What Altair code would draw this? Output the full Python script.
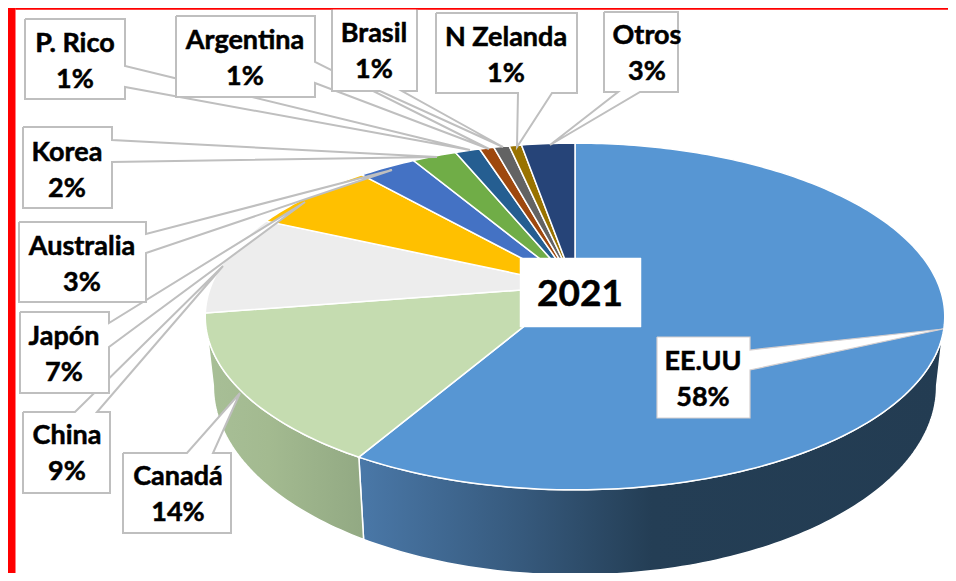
import math
import altair as alt
import pandas as pd

paises = ["EE.UU", "Canadá", "China", "Japón", "Australia", "Korea", "P. Rico", "Argentina", "Brasil", "N Zelanda", "Otros"]
etiquetas = ["58%", "14%", "9%", "7%", "3%", "2%", "1%", "1%", "1%", "1%", "3%"]
valores = [58.4, 14.1, 9.3, 6.67, 3.0, 2.3, 1.28, 0.75, 0.8, 0.64, 2.76]
colores = ["#5796d3", "#c5dcb0", "#ededed", "#ffc000", "#4472c4", "#70ad47", "#255e91", "#9e480e", "#636363", "#997300", "#264478"]
titulo = "2021"

W, H = 940, 565
# top face and base of the tilted disc (perspective parameters)
CX, K = 575, 0.1758
TOP = dict(cy=286, a=168, r=364)
BASE = dict(cy=353, a=183, r=356)

def rim(theta, f):
    t = math.radians(theta)
    X, Y = math.sin(t), -math.cos(t)
    d = 1 - K * Y
    return CX + f["r"] * X / d, f["cy"] + f["a"] * Y / d

def arc(a, b, f):
    n = max(2, int(abs(b - a)) + 1)
    return [rim(a + (b - a) * i / n, f) for i in range(n + 1)]

xs = alt.Scale(domain=[8, 8 + W], range=[0, W], nice=False, zero=False)
ys = alt.Scale(domain=[8, 8 + H], range=[0, H], nice=False, zero=False)

def poly(pts, fill, stroke, sw, clip=True):
    pts = list(pts) + [pts[0]]
    df = pd.DataFrame({"x": [p[0] for p in pts], "y": [p[1] for p in pts], "i": range(len(pts))})
    return alt.Chart(df).mark_line(fill=fill, stroke=stroke, strokeWidth=sw, strokeJoin="miter", clip=clip).encode(
        x=alt.X("x:Q", scale=xs, axis=None),
        y=alt.Y("y:Q", scale=ys, axis=None),
        order=alt.Order("i:Q"),
    )

total = sum(valores)
lim = [0]
for v in valores:
    lim.append(lim[-1] + v / total * 360)

def grad(stops, x1, x2):
    return alt.Gradient(gradient="linear", x1=x1, x2=x2, y1=0, y2=0,
                        stops=[alt.GradientStop(offset=o, color=c) for o, c in stops])

capas = []

# red frame
marco = pd.DataFrame({"x": [8, 15.5], "x2": [15.5, 948], "y": [8, 8], "y2": [8 + H, 9.5]})
capas.append(alt.Chart(marco).mark_rect(color="#ff0000").encode(
    x=alt.X("x:Q", scale=xs, axis=None), x2="x2:Q",
    y=alt.Y("y:Q", scale=ys, axis=None), y2="y2:Q"))

# sides
capas.append(poly(arc(100, lim[1], TOP) + arc(lim[1], 100, BASE),
                  grad([(0, "#4a78a8"), (0.28, "#36597c"), (0.5, "#243e55"), (1, "#233c52")], 0, 1), "#ffffff", 1.5))
capas.append(poly(arc(lim[1], 260, TOP) + arc(260, lim[1], BASE),
                  grad([(0, "#92a983"), (0.6, "#a3ba90"), (1, "#a8bf97")], 1, 0), "#ffffff", 1.5))

# top face
for i, c in enumerate(colores):
    capas.append(poly([(CX, TOP["cy"])] + arc(lim[i], lim[i + 1], TOP), c, "#ffffff", 1.5))

# callouts: box corners with the pointer drawn into the outline
GR = "#bfbfbf"
llamadas = [
    [(123, 453), (187, 453), (240, 393), (213, 453), (231, 453), (231, 533), (123, 533)],
    [(23, 412), (75, 412), (223, 266), (97, 412), (110, 412), (110, 493), (23, 493)],
    [(20, 312), (109, 312), (109, 323), (305, 202), (109, 347), (109, 393), (20, 393)],
    [(19, 222), (146, 222), (146, 234), (392, 170), (146, 253), (146, 302), (19, 302)],
    [(23, 127), (112, 127), (112, 140), (437, 157), (112, 162), (112, 208), (23, 208)],
    [(25, 19), (125, 19), (125, 66), (470, 150), (125, 87), (125, 99), (25, 99)],
    [(176, 16), (315, 16), (315, 62), (489, 149), (315, 83), (315, 97), (176, 97)],
    [(332, 6), (417, 6), (417, 91), (402, 91), (503, 147), (380, 91), (332, 91)],
    [(436, 13), (577, 13), (577, 93), (552, 93), (517, 147), (518, 93), (436, 93)],
    [(604, 12), (678, 12), (678, 92), (640, 92), (550, 145), (618, 92), (604, 92)],
]
for p in llamadas:
    capas.append(poly(p, "#ffffff", GR, 2))
capas.append(poly([(657, 337), (750, 337), (750, 350), (943, 329), (750, 370), (750, 418), (657, 418)], "#ffffff", "#d5cfcf", 1.2))
capas.append(poly([(520, 258), (641, 258), (641, 327), (520, 327)], "#ffffff", "#ffffff", 0.5))
# red top band over the box tops that run under it
capas.append(alt.Chart(marco.iloc[[1]]).mark_rect(color="#ff0000").encode(
    x=alt.X("x:Q", scale=xs, axis=None), x2="x2:Q",
    y=alt.Y("y:Q", scale=ys, axis=None), y2="y2:Q"))

# text
tx = [703, 178, 67, 64, 82, 67, 75, 245, 374, 506, 647]
ty = [362, 477, 436, 337, 247, 153, 44, 41, 34, 38, 36]
GAP = 36
textos = pd.DataFrame({
    "t": paises + etiquetas,
    "x": tx + tx,
    "y": ty + [v + GAP for v in ty],
})
capas.append(alt.Chart(textos).mark_text(font="Lato", fontWeight="bold", fontSize=27, color="#000000", stroke="#000000", strokeWidth=0.5, baseline="middle", align="center").encode(
    x=alt.X("x:Q", scale=xs, axis=None), y=alt.Y("y:Q", scale=ys, axis=None), text="t:N"))
capas.append(alt.Chart(pd.DataFrame({"t": [titulo], "x": [580], "y": [295]})).mark_text(font="Lato", fontWeight="bold", fontSize=37, color="#000000", stroke="#000000", strokeWidth=0.5, baseline="middle", align="center").encode(
    x=alt.X("x:Q", scale=xs, axis=None), y=alt.Y("y:Q", scale=ys, axis=None), text="t:N"))

chart = alt.layer(*capas).properties(width=W, height=H, padding=0, autosize=alt.AutoSizeParams(type="none"), background="#ffffff").configure_view(stroke=None)
chart.save("out.html", embed_options={"renderer": "svg", "actions": False})
